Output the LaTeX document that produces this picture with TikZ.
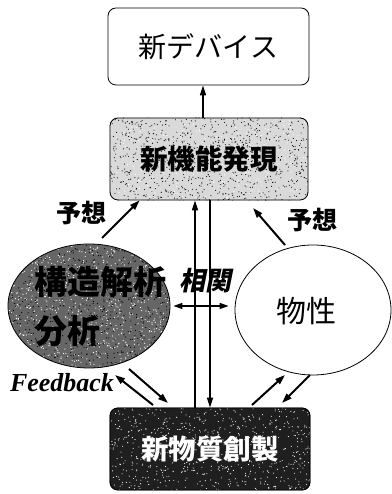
\documentclass[tikz,border=0pt]{standalone}
\usepackage{fontspec}
\setmainfont{Liberation Serif}
\newfontfamily\cjk{Noto Sans CJK JP}
\newfontfamily\cjksl[FakeSlant=0.2]{Noto Sans CJK JP}
\usetikzlibrary{arrows.meta,shapes.geometric,backgrounds,calc}
\begin{document}
\begin{tikzpicture}[x=1pt,y=1pt,
  box/.style={draw, line width=0.8pt, rounded corners=8pt, inner sep=0pt},
  oval/.style={draw, ellipse, line width=0.8pt, inner sep=0pt},
  lbl/.style={inner sep=0pt},
  arr/.style={line width=2pt, -{Triangle[length=10pt,width=6.5pt]}},
  varr/.style={line width=1.4pt, -{Triangle[length=10pt,width=6pt]}},
  darr/.style={line width=1.4pt, {Triangle[length=9pt,width=6pt]}-{Triangle[length=9pt,width=6pt]}},
]
\useasboundingbox (0,0) rectangle (391,494);
% nodes
\node[box, minimum width=201pt, minimum height=77pt, font=\cjk\fontsize{28}{28}\selectfont] (dev) at (208.5,447.5) {新デバイス};
\node[box, minimum width=198pt, minimum height=82pt, font=\cjk\bfseries\fontsize{27.5}{27.5}\selectfont] (func) at (209,335) {新機能発現};
\node[box, minimum width=200pt, minimum height=82pt, font=\cjk\bfseries\fontsize{27.5}{27.5}\selectfont, text=white] (mat) at (210,45) {新物質創製};
\node[oval, minimum width=162pt, minimum height=124pt] (L) at (89,188) {};
\node[oval, minimum width=156pt, minimum height=130pt] (R) at (313,184) {};
\node[lbl, align=left, font=\cjk\bfseries\fontsize{33}{49}\selectfont] (Lt) at (100,187) {構造解析\\分析\hspace*{2em}};
\node[lbl, font=\cjk\fontsize{30}{30}\selectfont] (Rt) at (306,183) {物性};
% labels
\node[lbl, font=\cjk\bfseries\fontsize{25}{25}\selectfont] (y1) at (81,281) {予想};
\node[lbl, font=\cjk\bfseries\fontsize{25}{25}\selectfont] (y2) at (312,274) {予想};
\node[lbl, font=\cjksl\bfseries\fontsize{26}{26}\selectfont] (sk) at (205,213) {相関};
\node[lbl, font=\bfseries\itshape\fontsize{26}{26}\selectfont] (fb) at (62,111) {Feedback};
% backgrounds with speckle
\begin{scope}[on background layer]
  \fill[black!15, rounded corners=8pt] (func.south west) rectangle (func.north east);
  \begin{scope}
    \clip[rounded corners=8pt] (func.south west) rectangle (func.north east);
    \pgfmathsetseed{7}
    \foreach \i in {1,...,900} \fill[black] ($(func.center)+(rand*100,rand*42)$) circle (0.55pt);
    \foreach \i in {1,...,300} \fill[white] ($(func.center)+(rand*100,rand*42)$) circle (0.6pt);
  \end{scope}
  \fill[black!88, rounded corners=8pt] (mat.south west) rectangle (mat.north east);
  \begin{scope}
    \clip[rounded corners=8pt] (mat.south west) rectangle (mat.north east);
    \pgfmathsetseed{11}
    \foreach \i in {1,...,700} \fill[white] ($(mat.center)+(rand*101,rand*42)$) circle (0.55pt);
  \end{scope}
  \fill[black!60] (L.center) ellipse [x radius=81, y radius=62];
  \begin{scope}
    \clip (L.center) ellipse [x radius=81, y radius=62];
    \pgfmathsetseed{23}
    \foreach \i in {1,...,900} \fill[white] ($(L.center)+(rand*82,rand*63)$) circle (0.6pt);
    \foreach \i in {1,...,700} \fill[black] ($(L.center)+(rand*82,rand*63)$) circle (0.6pt);
  \end{scope}
\end{scope}
% coordinates for free ends
\coordinate (yl0) at (102,256);
\coordinate (yr0) at (285,249);
\coordinate (yr1) at (253,286);
\coordinate (fa0) at (153,89);
\coordinate (fa1) at (115,119);
\coordinate (fb0) at (129,125);
\coordinate (fb1) at (168,91);
\coordinate (fc0) at (252,89);
\coordinate (fc1) at (285,119);
\coordinate (fd0) at (310,119);
\coordinate (fd1) at (282,91);
% connectors
\draw[varr] ([xshift=-6pt]func.north) -- ([xshift=-6pt]func.north |- dev.south);
\draw[varr] ([xshift=-15pt]mat.north) -- ([xshift=-15pt]mat.north |- func.south);
\draw[varr] ([xshift=1pt]func.south) -- ([xshift=1pt]func.south |- mat.north);
\draw[darr] ([xshift=3pt]L.east) -- ([xshift=-6pt]R.west |- L.east);
\draw[arr] (yl0) -- ([xshift=30pt]func.south west);
\draw[arr] (yr0) -- (yr1);
\draw[arr] (fa0) -- (fa1);
\draw[arr] (fb0) -- (fb1);
\draw[arr] (fc0) -- (fc1);
\draw[arr] (fd0) -- (fd1);
\end{tikzpicture}
\end{document}
